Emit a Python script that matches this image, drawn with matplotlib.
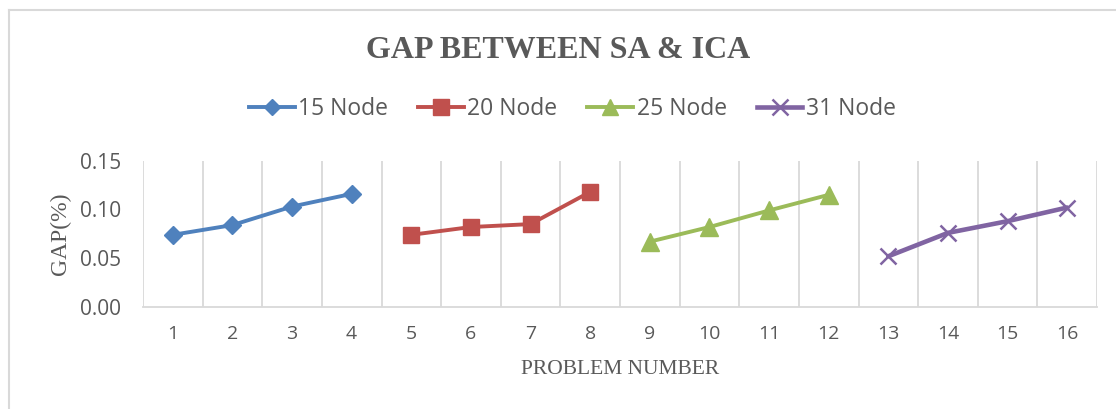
import matplotlib
matplotlib.use("Agg")
import matplotlib.pyplot as plt
from matplotlib.lines import Line2D

# Data
problems = list(range(1, 17))
series_names = ["15 Node", "20 Node", "25 Node", "31 Node"]
x_15 = [1, 2, 3, 4]
y_15 = [0.074, 0.084, 0.103, 0.116]
x_20 = [5, 6, 7, 8]
y_20 = [0.074, 0.082, 0.085, 0.118]
x_25 = [9, 10, 11, 12]
y_25 = [0.067, 0.082, 0.099, 0.115]
x_31 = [13, 14, 15, 16]
y_31 = [0.052, 0.076, 0.088, 0.102]
y_ticks = [0.00, 0.05, 0.10, 0.15]

colors = ["#4F81BD", "#C0504D", "#9BBB59", "#8064A2"]
markers = ["D", "s", "^", "x"]
msizes = [9, 12, 12.5, 12]
lws = [2.8, 2.8, 2.8, 3.3]

SERIF = "Liberation Serif"
SANS = "Open Sans"
GREY = "#595959"

W, H = 1116, 409
fig = plt.figure(figsize=(W / 100, H / 100), dpi=100)
ax = fig.add_axes([143 / W, 1 - 307 / H, (1097 - 143) / W, (307 - 160.7) / H])

xs = [x_15, x_20, x_25, x_31]
ys = [y_15, y_20, y_25, y_31]
for xv, yv, c, m, ms, lw, name in zip(xs, ys, colors, markers, msizes, lws, series_names):
    ax.plot(xv, yv, color=c, lw=lw, marker=m, markersize=ms,
            markeredgewidth=1.8 if m == "x" else 1, markeredgecolor=c,
            markerfacecolor=c, label=name, solid_capstyle="round", zorder=3)

ax.set_xlim(0.5, 16.5)
ax.set_ylim(0, 0.15)
ax.set_yticks(y_ticks)
ax.set_yticklabels([f"{v:.2f}" for v in y_ticks])
ax.set_xticks(problems)
ax.set_xticklabels([str(p) for p in problems])

# vertical gridlines at category boundaries
for b in [i + 0.5 for i in range(0, 17)]:
    ax.axvline(b, color="#D9D9D9", lw=1.3, zorder=1)
for s in ["top", "right", "left"]:
    ax.spines[s].set_visible(False)
ax.spines["bottom"].set_color("#D9D9D9")
ax.spines["bottom"].set_linewidth(1.3)
ax.tick_params(axis="both", length=0, colors=GREY)
ax.tick_params(axis="x", pad=13, labelsize=14)
ax.tick_params(axis="y", pad=16, labelsize=15)
for lab in ax.get_xticklabels() + ax.get_yticklabels():
    lab.set_family(SANS)

ax.set_ylabel("GAP(%)", family=SERIF, fontsize=17, color=GREY, labelpad=6)
ax.set_xlabel("PROBLEM NUMBER", family=SERIF, fontsize=15.5, color=GREY, labelpad=12)

fig.text(0.5, 1 - 50 / H, "GAP BETWEEN SA & ICA",
         ha="center", va="center", family=SERIF, fontsize=23,
         color=GREY, fontweight="bold")

handles = [Line2D([0], [0], color=c, lw=lw, marker=m, markersize=ms * 0.95,
                  markeredgewidth=1.8 if m == "x" else 1, markerfacecolor=c, markeredgecolor=c)
           for c, m, ms, lw in zip(colors, markers, msizes, lws)]
leg = fig.legend(handles, series_names, loc="center", bbox_to_anchor=(0.513, 1 - 109 / H),
                 ncol=4, frameon=False, handlelength=2.0, handletextpad=0.15,
                 columnspacing=1.3, prop={"family": SANS, "size": 16.5})
for t in leg.get_texts():
    t.set_color(GREY)

# chart border
fig.add_artist(Line2D([8.5 / W, 8.5 / W], [0, 1 - 9.5 / H], transform=fig.transFigure,
                      color="#D9D9D9", lw=1.5))
fig.add_artist(Line2D([8.5 / W, 1], [1 - 9.5 / H, 1 - 9.5 / H], transform=fig.transFigure,
                      color="#D9D9D9", lw=1.5))

fig.savefig("out.png", dpi=100)
